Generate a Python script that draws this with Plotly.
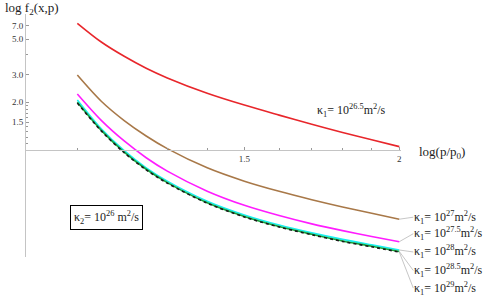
import math
import plotly.graph_objects as go

# x values: p/p0 (log axis labelled log(p/p0))
x_vals = [1.1, 1.15, 1.2, 1.25, 1.3, 1.4, 1.5, 1.6, 1.7, 1.8, 1.9, 2.0]

# f2 values for each kappa_1
f_k265 = [6.30, 4.80, 3.90, 3.28, 2.85, 2.28, 1.92, 1.66, 1.455, 1.29, 1.16, 1.05]
f_k27 = [2.97, 2.03, 1.533, 1.226, 1.02, 0.772, 0.636, 0.549, 0.486, 0.4375, 0.399, 0.366]
f_k275 = [2.256, 1.538, 1.14, 0.894, 0.736, 0.550, 0.448, 0.386, 0.342, 0.310, 0.285, 0.264]
f_k28 = [2.067, 1.361, 0.991, 0.772, 0.636, 0.475, 0.389, 0.336, 0.300, 0.273, 0.252, 0.234]
f_k285 = [2.00, 1.33, 0.970, 0.756, 0.623, 0.465, 0.381, 0.329, 0.294, 0.267, 0.247, 0.229]
f_k29 = [1.98, 1.32, 0.962, 0.750, 0.618, 0.462, 0.378, 0.327, 0.292, 0.265, 0.245, 0.227]

# tick positions as drawn in the reference (top label sits at ~6.06 on the scale)
y_tickvals = [1.5, 2, 3, 5, 6.06]
y_ticktext = ["1.5", "2.0", "3.0", "5.0", "7.0"]
y_minor = [1.1, 1.2, 1.3, 1.4, 1.6, 1.7, 1.8, 1.9, 4]
x_tickvals = [1.5, 2]
x_ticktext = ["1.5", "2"]
x_minor = [1.1, 1.3, 1.4, 1.6, 1.7, 1.8, 1.9]

FONT = "Liberation Serif"
AX = "#c4c4c4"
L, R, T, B = 26, 91, 14, 43
pw, ph = 492 - L - R, 300 - T - B

fig = go.Figure()
series = [
    (f_k265, "#e8262b", "solid"),
    (f_k27, "#a87848", "solid"),
    (f_k275, "#ff1cff", "solid"),
    (f_k28, "#19f0f0", "solid"),
    (f_k285, "#16a33a", "solid"),
    (f_k29, "#1a1a1a", "dot"),
]
for ys, col, dash in series:
    fig.add_trace(go.Scatter(x=x_vals, y=ys, mode="lines",
                             line=dict(color=col, width=1.6, dash=dash,
                                       shape="spline", smoothing=0.9),
                             showlegend=False, hoverinfo="skip"))

# labels with leader lines pointing to curve ends
labels = [
    (f_k27, "27", -2),
    (f_k275, "27.5", -8),
    (f_k28, "28", 2),
    (f_k285, "28.5", 19),
    (f_k29, "29", 36),
]
for ys, exp, ay in labels:
    fig.add_annotation(x=math.log10(x_vals[-1]), y=math.log10(ys[-1]),
                       xref="x", yref="y",
                       text=f"κ<sub>1</sub>= 10<sup>{exp}</sup>m<sup>2</sup>/s",
                       showarrow=True, arrowhead=0, arrowwidth=0.8,
                       arrowcolor="#b8b8b8", ax=14, ay=ay,
                       xanchor="left", yanchor="middle", standoff=0,
                       borderpad=0,
                       font=dict(family=FONT, size=12, color="#222"))

fig.add_annotation(x=(351 - L) / pw, y=(300 - B - 110) / ph,
                   xref="paper", yref="paper", xanchor="center", yanchor="middle",
                   text="κ<sub>1</sub>= 10<sup>26.5</sup>m<sup>2</sup>/s",
                   showarrow=False, font=dict(family=FONT, size=12, color="#222"))
fig.add_annotation(x=(106 - L) / pw, y=(300 - B - 217) / ph,
                   xref="paper", yref="paper", xanchor="center", yanchor="middle",
                   text="κ<sub>2</sub>= 10<sup>26</sup> m<sup>2</sup>/s",
                   showarrow=False, bordercolor="#000", borderwidth=1,
                   borderpad=3, bgcolor="white",
                   font=dict(family=FONT, size=12, color="#222"))
fig.add_annotation(x=(3 - L) / pw, y=(300 - B - 9) / ph,
                   xref="paper", yref="paper",
                   text="log f<sub>2</sub>(x,p)", showarrow=False,
                   xanchor="left", yanchor="middle",
                   font=dict(family=FONT, size=13, color="#222"))
fig.add_annotation(x=1.0, y=(300 - B - 152) / ph, xref="paper", yref="paper",
                   text="log(p/p<sub>0</sub>)", showarrow=False,
                   xanchor="left", yanchor="middle", xshift=16,
                   font=dict(family=FONT, size=13, color="#222"))

fig.update_layout(
    width=492, height=300,
    margin=dict(l=L, r=R, t=T, b=B, autoexpand=False),
    paper_bgcolor="white", plot_bgcolor="white",
    font=dict(family=FONT, size=9, color="#333"),
    xaxis=dict(type="log", range=[0, 0.3024], anchor="free",
               position=(300 - B - 150) / ph, automargin=False,
               showgrid=False, zeroline=False, showline=True, linecolor=AX,
               linewidth=1, ticks="inside", ticklen=3, tickcolor="#999",
               tickvals=x_tickvals, ticktext=x_ticktext,
               tickfont=dict(family=FONT, size=9, color="#333"),
               minor=dict(tickvals=x_minor, ticks="inside", ticklen=2,
                          tickcolor="#999", showgrid=False)),
    yaxis=dict(type="log", range=[-0.675, 0.858], automargin=False,
               showgrid=False, zeroline=False, showline=True, linecolor=AX,
               linewidth=1, ticks="inside", ticklen=3, tickcolor="#999",
               tickvals=y_tickvals, ticktext=y_ticktext,
               tickfont=dict(family=FONT, size=9, color="#333"),
               minor=dict(tickvals=y_minor, ticks="inside", ticklen=2,
                          tickcolor="#999", showgrid=False)),
)

fig.write_html("out.html", config={"displayModeBar": False},
               post_script="document.body.style.margin='0';"
                           "document.body.style.overflow='hidden';")
